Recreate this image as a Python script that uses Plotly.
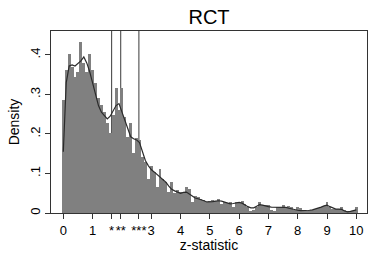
import plotly.graph_objects as go

# Histogram: bin centres 0.0 .. 10.0 (width 0.1), densities
bin_width = 0.1
bin_centers = [round(i * 0.1, 1) for i in range(101)]
bin_density = [
    0.287, 0.362, 0.402, 0.370, 0.345, 0.357, 0.434, 0.380, 0.357, 0.402,
    0.362, 0.330, 0.290, 0.273, 0.256, 0.227, 0.202, 0.247, 0.316, 0.260,
    0.316, 0.243, 0.192, 0.227, 0.151, 0.189, 0.184, 0.142, 0.129, 0.085,
    0.120, 0.104, 0.066, 0.112, 0.087, 0.078, 0.053, 0.078, 0.050, 0.057,
    0.053, 0.050, 0.067, 0.061, 0.027, 0.044, 0.040, 0.036, 0.032, 0.027,
    0.030, 0.032, 0.030, 0.036, 0.024, 0.027, 0.026, 0.027, 0.015, 0.027,
    0.026, 0.030, 0.022, 0.015, 0.006, 0.008, 0.015, 0.027, 0.020, 0.019,
    0.020, 0.008, 0.006, 0.015, 0.016, 0.019, 0.015, 0.017, 0.015, 0.007,
    0.015, 0.012, 0.006, 0.005, 0.007, 0.008, 0.010, 0.012, 0.015, 0.018,
    0.029, 0.015, 0.010, 0.009, 0.010, 0.016, 0.008, 0.004, 0.003, 0.004,
    0.015,
]

# Kernel density curve
kde_z = [round(i * 0.1, 1) for i in range(101)]
kde_density = [
    0.155, 0.330, 0.372, 0.375, 0.372, 0.378, 0.385, 0.395, 0.380, 0.358,
    0.330, 0.300, 0.272, 0.255, 0.245, 0.238, 0.245, 0.260, 0.272, 0.277,
    0.255, 0.235, 0.210, 0.193, 0.188, 0.185, 0.178, 0.155, 0.133, 0.120,
    0.110, 0.104, 0.097, 0.090, 0.083, 0.078, 0.068, 0.060, 0.056, 0.052,
    0.050, 0.052, 0.053, 0.048, 0.043, 0.038, 0.036, 0.034, 0.031, 0.028,
    0.028, 0.029, 0.030, 0.031, 0.030, 0.027, 0.025, 0.023, 0.024, 0.026,
    0.027, 0.025, 0.020, 0.016, 0.013, 0.013, 0.017, 0.021, 0.020, 0.017,
    0.016, 0.015, 0.015, 0.015, 0.014, 0.015, 0.014, 0.012, 0.010, 0.008,
    0.007, 0.006, 0.006, 0.006, 0.007, 0.008, 0.010, 0.012, 0.015, 0.018,
    0.020, 0.016, 0.012, 0.010, 0.010, 0.009, 0.005, 0.003, 0.004, 0.006,
    0.008,
]

# Significance thresholds and tick labels
thresholds = [1.65, 1.96, 2.58]
x_tickvals = [0, 1, 1.65, 1.96, 2.58, 3, 4, 5, 6, 7, 8, 9, 10]
x_ticktext = ["0", "1", "*", "**", "***", "3", "4", "5", "6", "7", "8", "9", "10"]
y_tickvals = [0, 0.1, 0.2, 0.3, 0.4]
y_ticktext = ["0", ".1", ".2", ".3", ".4"]

FONT = "Liberation Sans, Arial, sans-serif"

fig = go.Figure()
fig.add_trace(go.Bar(
    x=bin_centers, y=bin_density, width=bin_width,
    marker=dict(color="#808080", line=dict(width=0)),
    showlegend=False, hoverinfo="skip",
))
fig.add_trace(go.Scatter(
    x=kde_z, y=kde_density, mode="lines",
    line=dict(color="#2a2a2a", width=1.2),
    showlegend=False, hoverinfo="skip",
))

for t in thresholds:
    fig.add_shape(type="line", x0=t, x1=t, y0=0, y1=1, xref="x", yref="y domain",
                  line=dict(color="#3a3a3a", width=1), layer="below")

fig.update_layout(
    width=369, height=253,
    margin=dict(l=51, r=2, t=31, b=40),
    paper_bgcolor="white", plot_bgcolor="white",
    bargap=0,
    font=dict(family=FONT, size=13, color="black"),
    title=dict(text="RCT", x=0.5, xref="paper", y=1 - 17 / 253, yref="container",
               xanchor="center", yanchor="middle",
               font=dict(family=FONT, size=20, color="black")),
    xaxis=dict(
        range=[-0.42, 10.365], tickvals=x_tickvals, ticktext=x_ticktext,
        tickangle=0, automargin=False,
        ticks="outside", ticklen=5, tickwidth=1, tickcolor="#333",
        showline=True, linecolor="#333", linewidth=1, mirror=True,
        showgrid=False, zeroline=False,
        title=dict(text="z-statistic", standoff=0, font=dict(size=14)),
        tickfont=dict(size=13),
    ),
    yaxis=dict(
        range=[0, 0.4607], tickvals=y_tickvals, ticktext=y_ticktext,
        tickangle=-90, automargin=False,
        ticks="outside", ticklen=5, tickwidth=1, tickcolor="#333",
        showline=True, linecolor="#333", linewidth=1, mirror=True,
        showgrid=False, zeroline=False,
        title=dict(text="Density", standoff=4, font=dict(size=14)),
        tickfont=dict(size=13),
    ),
)

fig.write_html("out.html", config={"displayModeBar": False},
               post_script="document.body.style.margin='0';")
